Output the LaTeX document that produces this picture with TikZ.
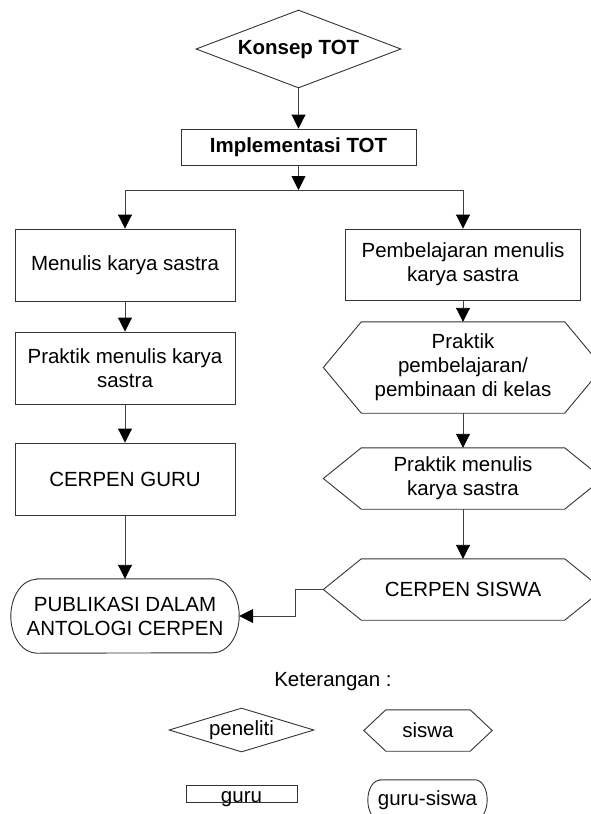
\documentclass[tikz,border=0pt]{standalone}
\usepackage{fontspec}
\setmainfont{Liberation Sans}
\usetikzlibrary{shapes.geometric,arrows.meta,calc}
\newcommand\hexnode[6]{%
  \node[minimum width=#3pt, minimum height=#4pt] (#1) at #2 {#6};
  \draw[shp] (#1.north west) -- (#1.north east) -- ($(#1.east)+(#5,0)$) coordinate (#1-e)
    -- (#1.south east) -- (#1.south west) -- ($(#1.west)+(-#5,0)$) coordinate (#1-w) -- cycle;
}
\newcommand\stadiumpath[3]{%
  \draw[shp] ($(#1.north west)+(#2,0)$) -- ($(#1.north east)+(-#2,0)$)
    arc[start angle=-90, end angle=90, x radius=#2, y radius=#3]
    -- ($(#1.south west)+(#2,0)$)
    arc[start angle=90, end angle=270, x radius=#2, y radius=#3] -- cycle;
}
\begin{document}
\begin{tikzpicture}[x=1pt,y=-1pt,
  every node/.style={font=\fontsize{20.5pt}{24pt}\selectfont, inner sep=0pt, align=center},
  boldtext/.style={font=\bfseries\fontsize{20.5pt}{24pt}\selectfont},
  shp/.style={draw=black!80, line width=0.9pt},
  box/.style={shp, rectangle},
  conn/.style={draw=black!75, line width=0.9pt},
  arr/.style={conn, -{Triangle[length=14pt,width=14pt,fill=black,color=black]}}
]
\path[use as bounding box, clip] (0,0) rectangle (591,814);

% top
\node[diamond, shp, aspect=2.6, minimum width=205pt, minimum height=78pt, boldtext] (konsep) at (298.5,49) {Konsep TOT};
\node[box, minimum width=235pt, minimum height=36pt, boldtext] (impl) at (298.5,147) {Implementasi TOT};
\coordinate (split) at (298.5,190);
\coordinate (splitL) at (125,190);
\coordinate (splitR) at (463,190);

% left column
\node[box, minimum width=220pt, minimum height=72pt] (menulis) at (125,265) {Menulis karya sastra};
\node[box, minimum width=220pt, minimum height=72pt] (praktikL) at (125,368) {Praktik menulis karya\\sastra};
\node[box, minimum width=220pt, minimum height=72pt] (cguru) at (125,479) {CERPEN GURU};
\node[minimum width=228pt, minimum height=74pt] (publ) at (125,616) {PUBLIKASI DALAM\\ANTOLOGI CERPEN};
\stadiumpath{publ}{26}{37}

% right column
\node[box, minimum width=235pt, minimum height=71pt] (pemb) at (463,264.5) {Pembelajaran menulis\\karya sastra};
\hexnode{hexa}{(463,367.5)}{203}{91}{38}{Praktik\\pembelajaran/\\pembinaan di kelas}
\hexnode{hexb}{(463,478.5)}{203}{61}{38}{Praktik menulis\\karya sastra}
\hexnode{hexc}{(463,589.5)}{203}{61}{38}{CERPEN SISWA}

% connectors
\draw[arr] (konsep.south) -- (impl.north);
\draw[arr] (impl.south) -- (split);
\draw[conn] (splitL) -- (splitR);
\draw[arr] (splitL) -- (menulis.north);
\draw[arr] (splitR) -- (pemb.north);
\draw[arr] (menulis.south) -- (praktikL.north);
\draw[arr] (praktikL.south) -- (cguru.north);
\draw[arr] (cguru.south) -- (publ.north);
\draw[arr] (pemb.south) -- (hexa.north);
\draw[arr] (hexa.south) -- (hexb.north);
\draw[arr] (hexb.south) -- (hexc.north);
\draw[arr] (hexc-w) -- ++(-28,0) |- (publ.east);

% legend
\node (ket) at (333,682) {Keterangan :};
\node[diamond, shp, aspect=3.3, minimum width=145pt, minimum height=44pt] (peneliti) at (241.5,730) {peneliti};
\hexnode{siswa}{(428,730.5)}{84}{41}{22}{siswa}
\node[box, minimum width=111pt, text height=17pt, text depth=0pt, anchor=south] (guru) at (241.5,803) {guru};
\node[minimum width=119pt, minimum height=40pt] (gurusiswa) at (427.5,800) {guru-siswa};
\stadiumpath{gurusiswa}{12}{20}
\end{tikzpicture}
\end{document}
